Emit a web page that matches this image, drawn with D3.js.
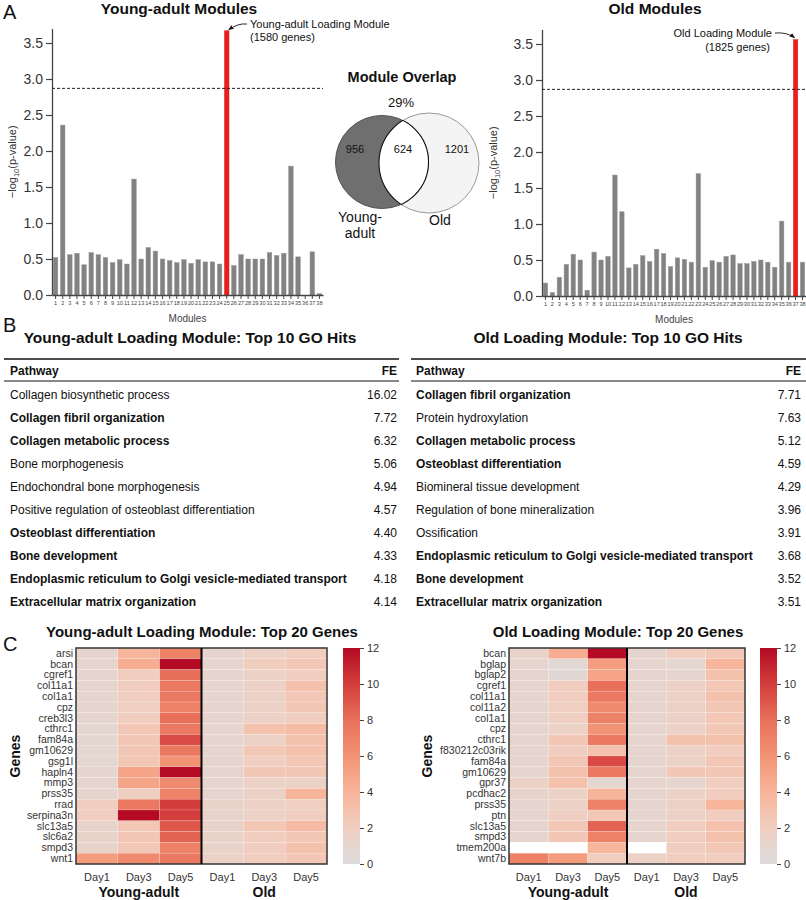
<!DOCTYPE html>
<html><head><meta charset="utf-8">
<script src="https://cdn.jsdelivr.net/npm/d3@7"></script>
<style>
body{margin:0;background:#fff;}
svg{font-family:"Liberation Sans",Arial,Helvetica,sans-serif;}
</style></head>
<body>
<svg id="fig" width="806" height="900"></svg>
<script>
// ---------- DATA ----------
const youngModules = d3.range(1, 39).map(String);
const youngValues = [0.52,2.36,0.56,0.58,0.42,0.59,0.56,0.52,0.45,0.49,0.43,1.61,0.50,0.66,0.61,0.50,0.48,0.45,0.49,0.44,0.49,0.46,0.46,0.43,3.67,0.41,0.56,0.50,0.50,0.50,0.59,0.55,0.58,1.79,0.53,0,0.60,0.02];
const youngLoading = "25";
const oldModules = d3.range(1, 39).map(String);
const oldValues = [0.18,0.05,0.26,0.44,0.58,0.50,0.08,0.61,0.50,0.55,1.68,1.17,0.39,0.44,0.56,0.48,0.65,0.59,0.41,0.53,0.51,0.47,1.70,0.40,0.49,0.47,0.55,0.57,0.45,0.45,0.48,0.50,0.47,0.40,1.04,0.47,3.56,0.47];
const oldLoading = "37";
const threshold = 2.87;
const yTicks = [0, 0.5, 1.0, 1.5, 2.0, 2.5, 3.0, 3.5];

const vennSets = ["Young-adult", "Old"];
const vennSizes = [1580, 1825];
const vennCounts = [956, 624, 1201];
const vennPct = "29%";

const youngGO = ["Collagen biosynthetic process","Collagen fibril organization","Collagen metabolic process","Bone morphogenesis","Endochondral bone morphogenesis","Positive regulation of osteoblast differentiation","Osteoblast differentiation","Bone development","Endoplasmic reticulum to Golgi vesicle-mediated transport","Extracellular matrix organization"];
const youngFE = ["16.02","7.72","6.32","5.06","4.94","4.57","4.40","4.33","4.18","4.14"];
const youngBold = [false,true,true,false,false,false,true,true,true,true];
const oldGO = ["Collagen fibril organization","Protein hydroxylation","Collagen metabolic process","Osteoblast differentiation","Biomineral tissue development","Regulation of bone mineralization","Ossification","Endoplasmic reticulum to Golgi vesicle-mediated transport","Bone development","Extracellular matrix organization"];
const oldFE = ["7.71","7.63","5.12","4.59","4.29","3.96","3.91","3.68","3.52","3.51"];
const oldBold = [true,false,true,true,false,false,false,true,true,true];

const hmColumns = ["YA Day1","YA Day3","YA Day5","Old Day1","Old Day3","Old Day5"];
const dayLabels = ["Day1","Day3","Day5","Day1","Day3","Day5"];
const groupLabels = ["Young-adult","Old"];
const youngGenes = ["arsi","bcan","cgref1","col11a1","col1a1","cpz","creb3l3","cthrc1","fam84a","gm10629","gsg1l","hapln4","mmp3","prss35","rrad","serpina3n","slc13a5","slc6a2","smpd3","wnt1"];
const youngExpr = [
 [1,4,7,1,1.5,2],
 [1,4.5,12,1,2,2.5],
 [1,2,8,1,1.5,2],
 [1,2,7.5,1,1.5,3],
 [1,2,7.5,1,1.5,2.5],
 [1,1.8,7,1,1.5,2.5],
 [1,2,8,1,1.5,2],
 [0.8,2.5,7.5,1,3,3.5],
 [0.8,2.5,9.5,1,1.5,3],
 [0.8,2.5,7.5,1,2.5,3],
 [0.8,2.5,6,1,1.8,2.5],
 [1,5,12,1,2.5,2.5],
 [1,5,6.5,1,1.5,1.5],
 [1,1.8,7,1,1.5,4],
 [2,7.5,10,1.2,1.5,1.8],
 [2,12,10,1.2,1.5,2],
 [1.2,2.5,9,1.2,2.5,3.5],
 [1.2,2.5,8.5,1.2,2,2.5],
 [1.2,2.5,7,1.2,2,3],
 [5.5,6.5,7.5,1.5,2,2.5]
];
const oldGenes = ["bcan","bglap","bglap2","cgref1","col11a1","col11a2","col1a1","cpz","cthrc1","f830212c03rik","fam84a","gm10629","gpr37","pcdhac2","prss35","ptn","slc13a5","smpd3","tmem200a","wnt7b"];
const oldExpr = [
 [1.2,4.5,12,1,2,2.5],
 [1,0.5,5.5,1,0.8,4],
 [1,0.5,5,1,1,3],
 [1,2,8,1,1.5,2.5],
 [1,2,7.5,1,1.5,3],
 [1,1.8,6.5,1,1.5,2.5],
 [1,1.8,7,1,1.5,2.5],
 [1,1.5,6,1,1.5,2.5],
 [1,2.5,7.5,1,3,3],
 [1,2,3,1,1.5,2],
 [1,2.5,9.5,1,1.5,2.5],
 [1,3,7.5,1,2.5,2.5],
 [1.5,3,0.8,1,1,2],
 [1.2,1.5,4,1,1.5,2],
 [1,1.5,7,1,1.5,4],
 [1,1.8,2.5,1,1.5,2],
 [1,2.5,8.5,1,2,3],
 [1,2.5,7,1,2,3],
 [null,null,4,null,2,2.5],
 [7,5.5,2,1.5,2,2]
];
const cbTicks = [0,2,4,6,8,10,12];

// ---------- DRAW ----------
const svg = d3.select("#fig");
const defs = svg.append("defs");
defs.append("marker").attr("id","arr").attr("viewBox","0 0 10 10").attr("refX",9).attr("refY",5)
  .attr("markerWidth",6).attr("markerHeight",6).attr("orient","auto")
  .append("path").attr("d","M0,1 L10,5 L0,9 z").attr("fill","#111");

function panelLetter(t,x,y){
  svg.append("text").attr("x",x).attr("y",y).attr("font-size",20).attr("fill","#111").text(t);
}
panelLetter("A",3,19); panelLetter("B",3,332); panelLetter("C",3,651);

function barChart(o){
  const g = svg.append("g");
  const x = d3.scaleBand().domain(o.mods).range([o.x0,o.x1]).paddingInner(0.36).paddingOuter(0.18);
  const y = d3.scaleLinear().domain([0,3.7]).range([o.y0, o.y0-3.7*72]);
  g.append("text").attr("x",o.tx).attr("y",14).attr("text-anchor","middle").attr("font-weight","bold").attr("font-size",15.5).attr("fill","#111").text(o.title);
  // bars
  g.selectAll("rect.bar").data(o.mods).join("rect")
    .attr("x",d=>x(d)).attr("width",x.bandwidth())
    .attr("y",(d,i)=>y(o.vals[i])).attr("height",(d,i)=>y(0)-y(o.vals[i]))
    .attr("fill",d=>d===o.loading?"#e5201f":"#828282")
    .attr("stroke",d=>d===o.loading?"#e5201f":"#9a9a9a").attr("stroke-width",0.5);
  // y axis
  const ya = g.append("g").attr("transform",`translate(${o.x0},0)`)
    .call(d3.axisLeft(y).tickValues(yTicks).tickFormat(d3.format(".1f")).tickSize(6).tickSizeOuter(0));
  ya.select(".domain").attr("stroke","#444").attr("stroke-width",1.3);
  ya.selectAll(".tick line").attr("stroke","#444").attr("stroke-width",1.2);
  ya.selectAll(".tick text").attr("font-size",14).attr("fill","#333").attr("font-family","Liberation Sans, Arial").attr("x",-9);
  // x axis
  const xa = g.append("g").attr("transform",`translate(0,${o.y0})`)
    .call(d3.axisBottom(x).tickSize(4).tickSizeOuter(0));
  xa.select(".domain").attr("stroke","#444").attr("stroke-width",1.3);
  xa.selectAll(".tick line").attr("stroke","#444");
  xa.selectAll(".tick text").attr("font-size",5.6).attr("fill","#444").attr("font-family","Liberation Sans, Arial").attr("y",6);
  g.append("text").attr("x",(o.x0+o.x1)/2).attr("y",o.y0+27).attr("text-anchor","middle").attr("font-size",10).attr("fill","#444").text("Modules");
  // threshold
  g.append("line").attr("x1",o.x0).attr("x2",o.x1).attr("y1",y(threshold)).attr("y2",y(threshold))
    .attr("stroke","#222").attr("stroke-dasharray","3,2").attr("stroke-width",1);
  // y label
  const yl = g.append("text").attr("transform",`translate(${o.ylx},${(o.y0+y(3.7))/2}) rotate(-90)`)
    .attr("text-anchor","middle").attr("font-size",11).attr("fill","#333");
  yl.append("tspan").text("\u2212log");
  yl.append("tspan").attr("font-size",7.5).attr("dy",3).text("10");
  yl.append("tspan").attr("dy",-3).text("(p-value)");
  return {x,y};
}

const A1 = barChart({mods:youngModules, vals:youngValues, loading:youngLoading, x0:52, x1:323, y0:295, tx:179, title:"Young-adult Modules", ylx:16});
const A2 = barChart({mods:oldModules, vals:oldValues, loading:oldLoading, x0:542, x1:806, y0:296, tx:655, title:"Old Modules", ylx:497});

// annotations
{
  const bx = A1.x(youngLoading)+A1.x.bandwidth()/2, by = A1.y(youngValues[24]);
  svg.append("text").attr("x",250).attr("y",28).attr("font-size",11).attr("fill","#111").text("Young-adult Loading Module");
  svg.append("text").attr("x",250).attr("y",41).attr("font-size",11).attr("fill","#111").text("(1580 genes)");
  svg.append("path").attr("d",`M247,24 Q238,23 ${bx+2},${by-1}`).attr("fill","none").attr("stroke","#111").attr("stroke-width",0.9).attr("marker-end","url(#arr)");
  const ox = A2.x(oldLoading)+A2.x.bandwidth()/2, oy = A2.y(oldValues[36]);
  svg.append("text").attr("x",772).attr("y",37).attr("text-anchor","end").attr("font-size",11).attr("fill","#111").text("Old Loading Module");
  svg.append("text").attr("x",770).attr("y",51).attr("text-anchor","end").attr("font-size",11).attr("fill","#111").text("(1825 genes)");
  svg.append("path").attr("d",`M775,33 Q787,32 ${ox-1},${oy-2}`).attr("fill","none").attr("stroke","#111").attr("stroke-width",0.9).attr("marker-end","url(#arr)");
}

// Venn
{
  const r = d3.scaleSqrt().domain([0,1825]).range([0,50]);
  const r1 = r(vennSizes[0]), r2 = r(vennSizes[1]);
  const c1 = {x:382, y:162}, c2 = {x:429, y:163};
  const g = svg.append("g");
  g.append("text").attr("x",402).attr("y",82).attr("text-anchor","middle").attr("font-weight","bold").attr("font-size",14.5).attr("fill","#111").text("Module Overlap");
  g.append("text").attr("x",401).attr("y",107).attr("text-anchor","middle").attr("font-size",13).attr("fill","#111").text(vennPct);
  defs.append("clipPath").attr("id","cl1").append("circle").attr("cx",c1.x).attr("cy",c1.y).attr("r",r1);
  defs.append("clipPath").attr("id","cl2").append("circle").attr("cx",c2.x).attr("cy",c2.y).attr("r",r2);
  g.append("circle").attr("cx",c2.x).attr("cy",c2.y).attr("r",r2).attr("fill","#f4f4f4").attr("stroke","#9a9a9a").attr("stroke-width",1);
  g.append("circle").attr("cx",c1.x).attr("cy",c1.y).attr("r",r1).attr("fill","#6f6f6f").attr("stroke","#555").attr("stroke-width",1);
  g.append("circle").attr("cx",c2.x).attr("cy",c2.y).attr("r",r2).attr("fill","#fff").attr("clip-path","url(#cl1)");
  g.append("circle").attr("cx",c2.x).attr("cy",c2.y).attr("r",r2).attr("fill","none").attr("stroke","#111").attr("stroke-width",1.1).attr("clip-path","url(#cl1)");
  g.append("circle").attr("cx",c1.x).attr("cy",c1.y).attr("r",r1).attr("fill","none").attr("stroke","#111").attr("stroke-width",1.1).attr("clip-path","url(#cl2)");
  const lx = [355, 403, 457];
  vennCounts.forEach((v,i)=>g.append("text").attr("x",lx[i]).attr("y",153).attr("text-anchor","middle").attr("font-size",11).attr("fill","#111").text(v));
  g.append("text").attr("x",360).attr("y",222).attr("text-anchor","middle").attr("font-size",14).attr("fill","#111").text("Young-");
  g.append("text").attr("x",360).attr("y",238).attr("text-anchor","middle").attr("font-size",14).attr("fill","#111").text("adult");
  g.append("text").attr("x",440).attr("y",225).attr("text-anchor","middle").attr("font-size",14).attr("fill","#111").text(vennSets[1]);
}

// Tables
function table(o){
  const g = svg.append("g");
  g.append("text").attr("x",o.cx).attr("y",343).attr("text-anchor","middle").attr("font-weight","bold").attr("font-size",15.5).attr("fill","#111").text(o.title);
  g.append("line").attr("x1",o.l).attr("x2",o.r).attr("y1",359).attr("y2",359).attr("stroke","#111").attr("stroke-width",1.6);
  g.append("text").attr("x",o.tx).attr("y",375).attr("font-weight","bold").attr("font-size",12).attr("fill","#111").text("Pathway");
  g.append("text").attr("x",o.fx).attr("y",375).attr("text-anchor","end").attr("font-weight","bold").attr("font-size",12).attr("fill","#111").text("FE");
  g.append("line").attr("x1",o.l).attr("x2",o.r).attr("y1",381).attr("y2",381).attr("stroke","#111").attr("stroke-width",1);
  const ys = d3.scalePoint().domain(d3.range(10)).range([399,606]);
  o.names.forEach((n,i)=>{
    g.append("text").attr("x",o.tx).attr("y",ys(i)).attr("font-size",12).attr("font-weight",o.bold[i]?"bold":"normal").attr("fill","#111").text(n);
    g.append("text").attr("x",o.fx).attr("y",ys(i)).attr("text-anchor","end").attr("font-size",12).attr("fill","#111").text(o.fe[i]);
  });
}
table({title:"Young-adult Loading Module: Top 10 GO Hits", cx:190, l:4, r:399, tx:10, fx:397, names:youngGO, fe:youngFE, bold:youngBold});
table({title:"Old Loading Module: Top 10 GO Hits", cx:608, l:411, r:806, tx:416, fx:801, names:oldGO, fe:oldFE, bold:oldBold});

// Heatmaps
const color = d3.scaleLinear().domain([0,2,4,6,8,10,12])
  .range(["#dcdcdc","#f0cdbf","#f7b59b","#f29374","#e8705a","#d33d3b","#b40a24"]).clamp(true);
const grad = defs.append("linearGradient").attr("id","cbg").attr("x1",0).attr("x2",0).attr("y1",1).attr("y2",0);
d3.range(0,12.01,1).forEach(v=>grad.append("stop").attr("offset",v/12).attr("stop-color",color(v)));

function heatmap(o){
  const g = svg.append("g");
  const x = d3.scaleBand().domain(hmColumns).range([o.x0,o.x1]);
  const y = d3.scaleBand().domain(o.genes).range([648,864]);
  g.append("text").attr("x",o.tx).attr("y",637).attr("text-anchor","middle").attr("font-weight","bold").attr("font-size",15).attr("fill","#111").text(o.title);
  o.genes.forEach((gn,i)=>{
    hmColumns.forEach((c,j)=>{
      const v = o.data[i][j];
      g.append("rect").attr("x",x(c)).attr("y",y(gn)).attr("width",x.bandwidth()).attr("height",y.bandwidth())
        .attr("fill",v==null?"#ffffff":color(v)).attr("stroke","#ffffff").attr("stroke-opacity",0.35).attr("stroke-width",0.5);
    });
  });
  g.append("rect").attr("x",o.x0).attr("y",648).attr("width",o.x1-o.x0).attr("height",216).attr("fill","none").attr("stroke","#333").attr("stroke-width",1.5);
  g.append("line").attr("x1",x(hmColumns[3])).attr("x2",x(hmColumns[3])).attr("y1",648).attr("y2",864).attr("stroke","#000").attr("stroke-width",2);
  const ya = g.append("g").attr("transform",`translate(${o.x0},0)`).call(d3.axisLeft(y).tickSize(0));
  ya.select(".domain").remove();
  ya.selectAll(".tick text").attr("font-size",10.5).attr("fill","#333").attr("x",-3).attr("font-family","Liberation Sans, Arial");
  const xa = g.append("g").attr("transform",`translate(0,864)`).call(d3.axisBottom(x).tickSize(0).tickFormat((d,i)=>dayLabels[i]));
  xa.select(".domain").remove();
  xa.selectAll(".tick text").attr("font-size",11).attr("fill","#333").attr("dy",0).attr("font-family","Liberation Sans, Arial");
  xa.selectAll(".tick text").attr("y",17);
  g.append("text").attr("x",(x(hmColumns[0])+x(hmColumns[2])+x.bandwidth())/2).attr("y",897).attr("text-anchor","middle").attr("font-weight","bold").attr("font-size",14).attr("fill","#111").text(groupLabels[0]);
  g.append("text").attr("x",(x(hmColumns[3])+x(hmColumns[5])+x.bandwidth())/2).attr("y",897).attr("text-anchor","middle").attr("font-weight","bold").attr("font-size",14).attr("fill","#111").text(groupLabels[1]);
  g.append("text").attr("transform",`translate(${o.glx},756) rotate(-90)`).attr("text-anchor","middle").attr("font-weight","bold").attr("font-size",14).attr("fill","#111").text("Genes");
  // colorbar
  const cy = d3.scaleLinear().domain([0,12]).range([864,648]);
  g.append("rect").attr("x",o.cbx).attr("y",648).attr("width",17).attr("height",216).attr("fill","url(#cbg)");
  const ca = g.append("g").attr("transform",`translate(${o.cbx+17},0)`).call(d3.axisRight(cy).tickValues(cbTicks).tickSize(4).tickSizeOuter(0));
  ca.select(".domain").remove();
  ca.selectAll(".tick line").attr("stroke","#444");
  ca.selectAll(".tick text").attr("font-size",11).attr("fill","#333").attr("font-family","Liberation Sans, Arial");
}
heatmap({title:"Young-adult Loading Module: Top 20 Genes", tx:202, x0:76, x1:327, genes:youngGenes, data:youngExpr, glx:20, cbx:343});
heatmap({title:"Old Loading Module: Top 20 Genes", tx:618, x0:509, x1:745, genes:oldGenes, data:oldExpr, glx:432, cbx:760});
</script>
</body></html>
